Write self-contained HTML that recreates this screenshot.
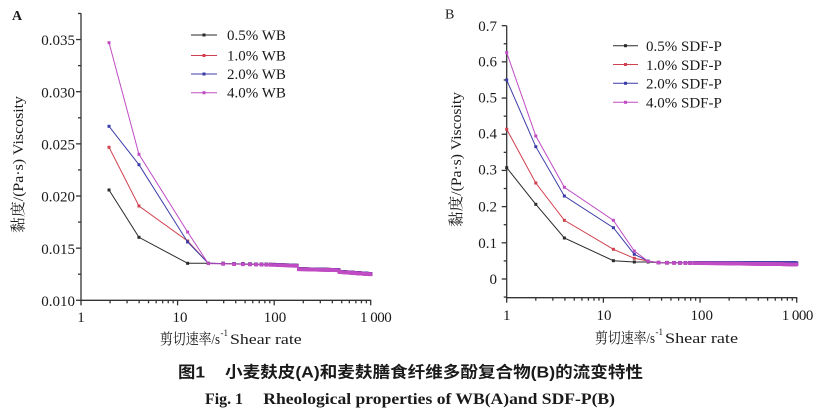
<!DOCTYPE html>
<html><head><meta charset="utf-8"><style>
html,body{margin:0;padding:0;background:#fff;}
svg{display:block;}
.t{font-family:"Liberation Serif","Noto Serif CJK SC",serif;fill:#1a1a1a;}
.c{font-family:"Liberation Sans","Noto Sans CJK SC",sans-serif;fill:#1a1a1a;}
</style></head><body>
<svg id="s" width="821" height="411" viewBox="0 0 821 411" xmlns="http://www.w3.org/2000/svg">
<rect width="821" height="411" fill="#fff"/>
<g id="axes" stroke="#333" stroke-width="1.3" fill="none"></g>
<g id="data"></g>
<!-- Panel A text -->
<text class="t" x="12" y="20" font-size="14" font-weight="bold" fill="#222">A</text>
<g class="t" font-size="15" text-anchor="end">
<text x="75" y="45">0.035</text>
<text x="75" y="97.5">0.030</text>
<text x="75" y="149.5">0.025</text>
<text x="75" y="201.5">0.020</text>
<text x="75" y="254">0.015</text>
<text x="75" y="306">0.010</text>
</g>
<g class="t" font-size="15">
<text x="81" y="322" text-anchor="middle">1</text>
<text x="180" y="322" text-anchor="middle">10</text>
<text x="275" y="322" text-anchor="middle">100</text>
<text x="360" y="322" textLength="31.7" lengthAdjust="spacing">1 000</text>
</g>
<text class="t" font-size="15" x="160" y="344" textLength="60" lengthAdjust="spacingAndGlyphs">剪切速率/s</text>
<text class="t" font-size="9" x="220.5" y="336">-1</text>
<text class="t" font-size="15" x="230" y="344" textLength="71.7" lengthAdjust="spacingAndGlyphs">Shear rate</text>
<text class="t" font-size="15" transform="translate(23,233) rotate(-90)" x="0" y="0" textLength="137" lengthAdjust="spacingAndGlyphs">黏度/(Pa·s) Viscosity</text>
<g class="t" font-size="15">
<text x="227" y="40">0.5% WB</text>
<text x="227" y="60.5">1.0% WB</text>
<text x="227" y="79">2.0% WB</text>
<text x="227" y="97.7">4.0% WB</text>
</g>
<!-- Panel B text -->
<text class="t" x="445" y="18.5" font-size="14" fill="#222">B</text>
<g class="t" font-size="15" text-anchor="end">
<text x="497" y="31">0.7</text>
<text x="497" y="66.5">0.6</text>
<text x="497" y="102.5">0.5</text>
<text x="497" y="138.5">0.4</text>
<text x="497" y="174.5">0.3</text>
<text x="497" y="211.5">0.2</text>
<text x="497" y="248">0.1</text>
<text x="497" y="284">0</text>
</g>
<g class="t" font-size="15">
<text x="506.7" y="320" text-anchor="middle">1</text>
<text x="604" y="320" text-anchor="middle">10</text>
<text x="701.7" y="320" text-anchor="middle">100</text>
<text x="781.7" y="320" textLength="31.7" lengthAdjust="spacing">1 000</text>
</g>
<text class="t" font-size="15" x="595" y="343" textLength="60" lengthAdjust="spacingAndGlyphs">剪切速率/s</text>
<text class="t" font-size="9" x="655.5" y="335">-1</text>
<text class="t" font-size="15" x="665" y="343" textLength="73" lengthAdjust="spacingAndGlyphs">Shear rate</text>
<text class="t" font-size="15" transform="translate(461,227) rotate(-90)" x="0" y="0" textLength="135" lengthAdjust="spacingAndGlyphs">黏度/(Pa·s) Viscosity</text>
<g class="t" font-size="15">
<text x="646" y="51">0.5%  SDF-P</text>
<text x="646" y="70">1.0%  SDF-P</text>
<text x="646" y="88.5">2.0%  SDF-P</text>
<text x="646" y="107.5">4.0%  SDF-P</text>
</g>
<!-- Caption -->
<text class="c" font-size="16" font-weight="bold" x="178" y="377.5" textLength="27" lengthAdjust="spacingAndGlyphs">图1</text>
<text class="c" font-size="16" font-weight="bold" x="225" y="377.5" textLength="418" lengthAdjust="spacingAndGlyphs">小麦麸皮(A)和麦麸膳食纤维多酚复合物(B)的流变特性</text>
<text class="t" font-size="16" font-weight="bold" x="205" y="404" textLength="38" lengthAdjust="spacingAndGlyphs">Fig. 1</text>
<text class="t" font-size="16" font-weight="bold" x="263.3" y="404" textLength="351.7" lengthAdjust="spacingAndGlyphs">Rheological properties of WB(A)and SDF-P(B)</text>
</svg>
<script>
(function(){
var NS='http://www.w3.org/2000/svg';
var axes=document.getElementById('axes'),data=document.getElementById('data');
function el(p,tag,a){var e=document.createElementNS(NS,tag);for(var k in a)e.setAttribute(k,a[k]);p.appendChild(e);return e;}
function line(p,x1,y1,x2,y2,sw,c){return el(p,'line',{x1:x1,y1:y1,x2:x2,y2:y2,'stroke-width':sw||1.3,stroke:c||'#333'});}
var L=Math.log10;
// Axes A
var ax0=81,ay0=300.3,ax1=370.7,aytop=13.3,dec=96.6;
line(axes,ax0,aytop,ax0,ay0+0.6);line(axes,ax0-0.6,ay0,ax1+0.6,ay0);
for(var i=0;i<=5;i++){var y=300.3-i*52.15;line(axes,ax0-5,y,ax0,y);}
for(var i=0;i<=5;i++){var y=300.3-(i+0.5)*52.15;line(axes,ax0-3,y,ax0,y);}
for(var d=0;d<3;d++){for(var m=1;m<=9;m++){var x=ax0+dec*(d+L(m));line(axes,x,ay0,x,ay0+(m==1?5:3));}}
line(axes,ax1,ay0,ax1,ay0+5);
// Axes B
var bx0=506.7,by0=297.7,bx1=796.7,bytop=25.7,bdec=96.67;
line(axes,bx0,bytop,bx0,by0+0.6);line(axes,bx0-0.6,by0,bx1+0.6,by0);
for(var i=0;i<=7;i++){var y=279-i*36.19;line(axes,bx0-5,y,bx0,y);}
for(var i=-1;i<=6;i++){var y=279-(i+0.5)*36.19;line(axes,bx0-3,y,bx0,y);}
for(var d=0;d<3;d++){for(var m=1;m<=9;m++){var x=bx0+bdec*(d+L(m));line(axes,x,by0,x,by0+(m==1?5:3));}}
line(axes,bx1,by0,bx1,by0+5);
var cols=['#2a2a2a','#d0404e','#3c3ca8','#c04cc4'];
function series(pts,c,ninit){
 var d='';pts.forEach(function(p,i){d+=(i?'L':'M')+p[0].toFixed(2)+' '+p[1].toFixed(2);});
 el(data,'path',{d:d,fill:'none',stroke:c,'stroke-width':1});
 pts.forEach(function(p,i){var sz=i<ninit?3:3.6;el(data,'rect',{x:p[0]-sz/2,y:p[1]-sz/2,width:sz,height:sz,fill:c});});
}
// Panel A
function xA(r){return ax0+dec*L(r);}
function fA(r){
 var l=L(r);
 if(r<=100) return 263.3+(l-L(20.8))/(2-L(20.8))*1.4;
 if(r<180) return 264.7+(l-2)/(L(180)-2)*1.0;
 if(r<470) return 269+(l-L(180))/(L(470)-L(180))*1.0;
 return 271.7+(l-L(470))/(3-L(470))*2.3;
}
var dense=[];for(var r=20.8;r<=1000;r+=8.85)dense.push(r);
var Ainit=[[190,237.3,263.3],[147.3,206,241],[126.3,164.7,242],[42.7,154.3,232]];
var Ar=[1.95,3.98,12.7];
for(var s=0;s<4;s++){
 var pts=[];for(var i=0;i<3;i++)pts.push([xA(Ar[i]),Ainit[s][i]]);
 dense.forEach(function(r){pts.push([xA(r),fA(r)+(s==3?0.3:0)]);});
 series(pts,cols[s],4);
}
// Panel B
function xB(r){return bx0+bdec*L(r);}
var Binit=[[167.7,204.3,238,260.7,262,262],[129.3,183,220.3,249.3,258.3,261],[80,146.7,196,227.7,254.3,261],[52.7,136,187.3,220.3,251,261.3]];
var Br=[1,2,3.95,12.7,20.9,29];
var denseB=[];for(var r=37.3;r<=1000;r+=8.3)denseB.push(r);
for(var s=0;s<4;s++){
 var pts=[];for(var i=0;i<6;i++)pts.push([xB(Br[i]),Binit[s][i]]);
 denseB.forEach(function(r){var t=(L(r)-L(37.3))/(3-L(37.3));var end=(s==2?263.2:(s==3?264.4:263.8));pts.push([xB(r),262.7+t*(end-262.7)]);});
 series(pts,cols[s],6);
}
// Legends
var legA=[35,55.5,74,92.7],legB=[45.7,64.5,83.3,102.3];
for(var s=0;s<4;s++){
 line(data,191,legA[s],217,legA[s],1,cols[s]);el(data,'rect',{x:202.5,y:legA[s]-1.5,width:3,height:3,fill:cols[s]});
 line(data,613,legB[s],638,legB[s],1,cols[s]);el(data,'rect',{x:624,y:legB[s]-1.5,width:3,height:3,fill:cols[s]});
}
})();
</script>
</body></html>
